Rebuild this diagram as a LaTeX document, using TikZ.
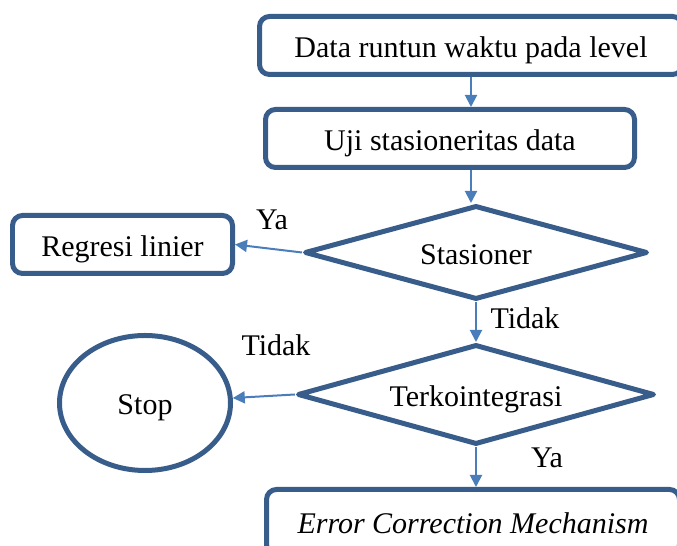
\documentclass[tikz,border=0pt]{standalone}
\usepackage{fontspec}
\setmainfont{Liberation Serif}
\usetikzlibrary{shapes.geometric,arrows.meta}
\definecolor{edgeblue}{RGB}{56,93,138}
\definecolor{arrowblue}{RGB}{74,126,187}

\begin{document}
\begin{tikzpicture}[
  font=\fontsize{25.6pt}{30pt}\selectfont,
  shape text/.style={text height=20.5pt, text depth=0pt},
  box/.style={draw=edgeblue, line width=0.15cm, rounded corners=0.3cm, minimum height=1.74cm, inner sep=0pt, shape text},
  decision/.style={draw=edgeblue, line width=0.15cm, diamond, aspect=3.6, inner sep=0pt, line join=round, shape text},
  terminal/.style={draw=edgeblue, line width=0.15cm, ellipse, inner sep=0pt, shape text},
  arr/.style={draw=arrowblue, line width=0.06cm, -{Triangle[length=0.36cm, width=0.36cm]}}
]
\useasboundingbox (0,0) rectangle (20.31,16.38);

\node[name=data, box, minimum width=12.69cm] at (14.13,15.015) {Data runtun waktu pada level};
\node[name=uji, box, minimum width=11.07cm] at (13.5,12.225) {Uji stasioneritas data};
\node[name=stas, decision, minimum width=10.29cm, minimum height=2.82cm] at (14.28,8.805) {Stasioner};
\node[name=reg, box, minimum width=6.6cm] at (3.675,9.045) {Regresi linier};
\node[name=terko, decision, minimum width=10.71cm, minimum height=3.0cm] at (14.28,4.545) {Terkointegrasi};
\node[name=stop, terminal, minimum width=5.13cm, minimum height=4.05cm] at (4.35,4.29) {Stop};
\node[name=ecm, box, minimum width=12.39cm, minimum height=1.95cm] at (14.19,0.72) {\itshape Error Correction Mechanism};

\node[name=ya1] at (8.16,9.78) {Ya};
\node[name=tidak1] at (15.75,6.84) {Tidak};
\node[name=tidak2] at (8.28,6.03) {Tidak};
\node[name=ya2] at (16.41,2.64) {Ya};

\draw[arr] (data.south) -- (data.south |- uji.north);
\draw[arr] (uji.south -| data.south) -- (data.south |- stas.north);
\draw[arr] (stas.west) -- (reg.east);
\draw[arr] (stas.south) -- (terko.north);
\draw[arr] (terko.west) -- (stop);
\draw[arr] (terko.south) -- (terko.south |- ecm.north);
\end{tikzpicture}
\end{document}
